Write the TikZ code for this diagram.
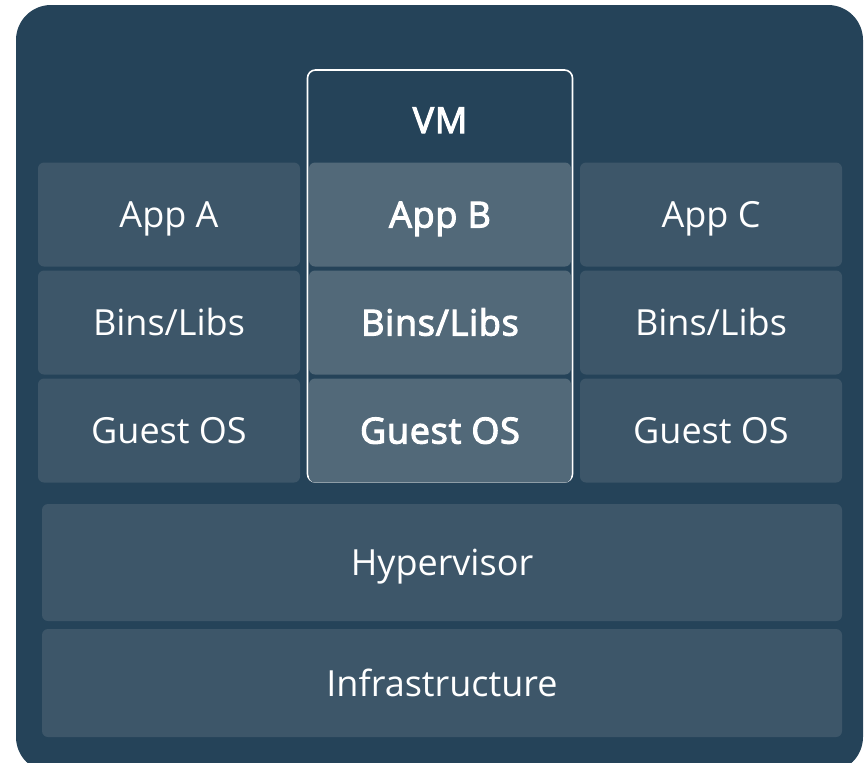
\documentclass[tikz,border=0pt]{standalone}
\usepackage{fontspec}
\setmainfont{Open Sans}
\newfontfamily\vmfont{Open Sans}[FakeBold=3, LetterSpace=2]
\usepackage{tikz}

\definecolor{bgnavy}{RGB}{37,67,89}
\definecolor{sidebox}{RGB}{61,86,105}
\definecolor{midbox}{RGB}{82,105,121}

\tikzset{
	layer/.style={rectangle, rounded corners=6pt, fill=sidebox, text=white, minimum width=262pt, minimum height=104pt, inner sep=0pt, text height=26pt, text depth=0pt, font=\fontsize{36}{43}\selectfont},
	vmlayer/.style={layer, fill=midbox, font=\fontsize{36}{43}\vmfont},
	wide/.style={layer, minimum width=800pt}
}

\begin{document}
\begin{tikzpicture}[x=1pt, y=-1pt]
				\useasboundingbox (0,0) rectangle (868,763);
				\begin{scope}
					\clip (0,0) rectangle (868,763);
					\fill[bgnavy, rounded corners=35pt] (16,5) rectangle (863,772);
				\end{scope}
				% VM frame
				\node[draw=white, line width=1.6pt, rounded corners=8pt, minimum width=265pt, minimum height=412pt, inner sep=0pt] (VM) at (440, 276) {};
				\node[text=white, inner sep=0pt, text height=26pt, text depth=0pt, font=\fontsize{36}{43}\vmfont] (VMlabel) at (440, 120) {VM};
				% left column
				\node[layer] (appA) at (169, 214.5) {App A};
				\node[layer] (binsA) at (169, 322.5) {Bins/Libs};
				\node[layer] (osA) at (169, 430.5) {Guest OS};
				% middle column
				\node[vmlayer] (appB) at (440, 214.5) {App B};
				\node[vmlayer] (binsB) at (440, 322.5) {Bins/Libs};
				\node[vmlayer] (osB) at (440, 430.5) {Guest OS};
				% right column
				\node[layer] (appC) at (711, 214.5) {App C};
				\node[layer] (binsC) at (711, 322.5) {Bins/Libs};
				\node[layer] (osC) at (711, 430.5) {Guest OS};
				% bottom layers
				\node[wide, minimum height=117pt] (hyp) at (442, 562.5) {Hypervisor};
				\node[wide, minimum height=108pt] (infra) at (442, 683) {Infrastructure};
			\end{tikzpicture}
\end{document}
